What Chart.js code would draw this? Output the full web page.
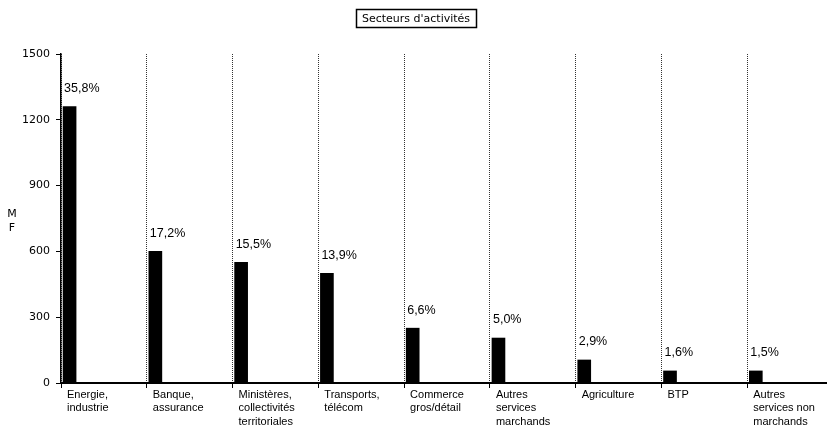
<!DOCTYPE html>
<html>
<head>
<meta charset="utf-8">
<script src="https://cdn.jsdelivr.net/npm/chart.js@4"></script>
<style>
  html, body { margin: 0; padding: 0; background: #fff; overflow: hidden; }
  #wrap { width: 833px; height: 428px; }
</style>
</head>
<body>
<div id="wrap"><canvas id="c" width="833" height="428"></canvas></div>
<script>
const categories = [
  ["Energie,", "industrie"],
  ["Banque,", "assurance"],
  ["Ministères,", "collectivités", "territoriales"],
  ["Transports,", "télécom"],
  ["Commerce", "gros/détail"],
  ["Autres", "services", "marchands"],
  ["Agriculture"],
  ["BTP"],
  ["Autres", "services non", "marchands"]
];
const values = [1260, 600, 550, 500, 250, 205, 105, 55, 55];
const shares = ["35,8%", "17,2%", "15,5%", "13,9%", "6,6%", "5,0%", "2,9%", "1,6%", "1,5%"];
const yTicks = [0, 300, 600, 900, 1200, 1500];
const chartTitle = "Secteurs d'activités";
const yTitle = ["M", "F"];

const BAR_SHIFT = 0.1; // bars sit near the left edge of their category slot

const points = values.map((v, i) => ({ x: i, y: v }));

const overlay = {
  id: 'overlay',
  afterDatasetsDraw(chart) {
    const ctx = chart.ctx;
    const meta = chart.getDatasetMeta(0);
    ctx.save();
    ctx.fillStyle = '#000';
    ctx.font = '12.5px "Liberation Sans", Arial, sans-serif';
    ctx.textAlign = 'left';
    ctx.textBaseline = 'middle';
    meta.data.forEach((bar, i) => {
      const left = bar.x - bar.width / 2;
      ctx.fillText(shares[i], left + 1, bar.y - 18);
    });
    ctx.restore();
  },
  afterDraw(chart) {
    const ctx = chart.ctx;
    const area = chart.chartArea;
    ctx.save();
    ctx.font = '11px "DejaVu Sans", sans-serif';
    ctx.fillStyle = '#000';
    ctx.textAlign = 'center';
    ctx.textBaseline = 'middle';
    const cx = 416;
    const cy = 19;
    const w = ctx.measureText(chartTitle).width;
    ctx.fillText(chartTitle, cx, cy);
    ctx.lineWidth = 1.5;
    ctx.strokeStyle = '#000';
    ctx.strokeRect(Math.round(cx - w / 2 - 6) + 0.5, 9.5, Math.round(w + 12), 18);
    const my = (area.top + area.bottom) / 2;
    ctx.fillText(yTitle[0], 12, my - 4);
    ctx.fillText(yTitle[1], 12, my + 10);
    ctx.restore();
  }
};

new Chart(document.getElementById('c'), {
  type: 'bar',
  data: {
    datasets: [{
      data: points,
      backgroundColor: '#000',
      borderWidth: 0,
      barThickness: 13
    }]
  },
  options: {
    responsive: false,
    animation: false,
    events: [],
    layout: { padding: { top: 54, left: 0, right: 0, bottom: 0 } },
    plugins: {
      legend: { display: false },
      tooltip: { enabled: false },
      title: { display: false }
    },
    scales: {
      x: {
        type: 'linear',
        offset: false,
        min: -BAR_SHIFT,
        max: categories.length - BAR_SHIFT,
        afterBuildTicks(scale) {
          scale.ticks = categories.map((_, i) => ({ value: i - BAR_SHIFT }))
            .concat([{ value: categories.length - BAR_SHIFT }]);
        },
        afterFit(scale) { scale.height = 45; },
        grid: {
          display: true,
          offset: false,
          drawOnChartArea: true,
          drawTicks: true,
          tickLength: 5,
          color: '#333',
          tickColor: '#000',
          lineWidth: 1
        },
        border: { display: true, color: '#000', width: 2, dash: [1, 1] },
        ticks: {
          autoSkip: false,
          maxRotation: 0,
          minRotation: 0,
          align: 'start',
          labelOffset: 6,
          padding: 0,
          color: '#000',
          font: { family: '"Liberation Sans", Arial, sans-serif', size: 11, lineHeight: 1.22 },
          callback: (value, index) => categories[index] || ''
        }
      },
      y: {
        min: 0,
        max: 1500,
        afterBuildTicks(scale) {
          scale.ticks = yTicks.map(v => ({ value: v }));
        },
        afterFit(scale) { scale.width = 61; },
        grid: {
          display: true,
          drawOnChartArea: false,
          drawTicks: true,
          tickLength: 5,
          tickColor: '#000'
        },
        border: { display: true, color: '#000', width: 1.5 },
        ticks: {
          padding: 6,
          color: '#000',
          font: { family: '"DejaVu Sans", sans-serif', size: 11 },
          callback: (value) => String(value)
        }
      }
    }
  },
  plugins: [overlay]
});
</script>
</body>
</html>
